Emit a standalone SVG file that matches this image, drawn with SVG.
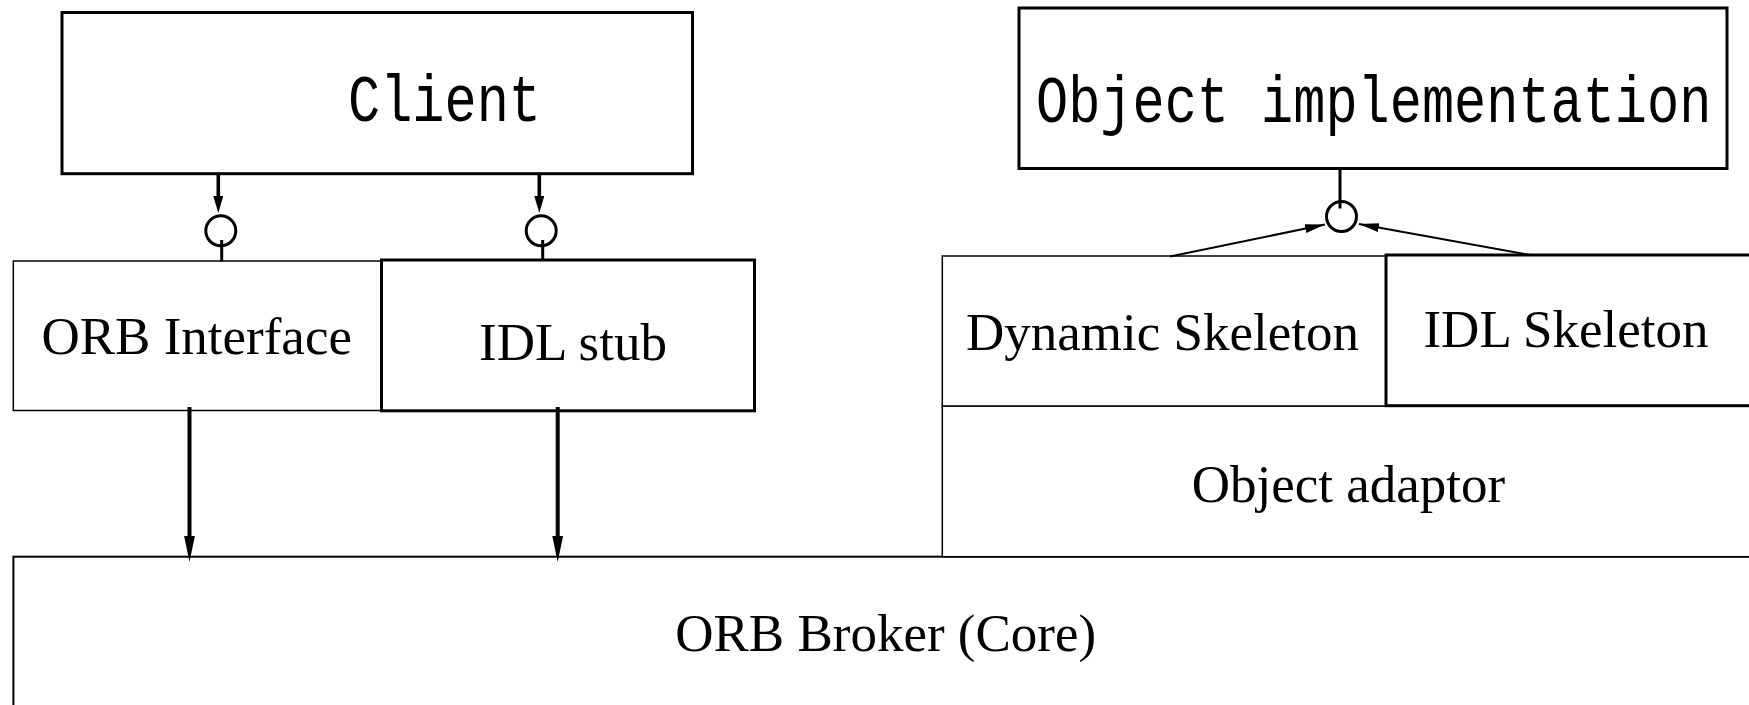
<svg xmlns="http://www.w3.org/2000/svg" width="1749" height="705" viewBox="0 0 1749 705">
<style>
  .thin { fill: #fff; stroke: #000; stroke-width: 1.5; }
  .thick { fill: #fff; stroke: #000; stroke-width: 3; }
  .base { fill: #fff; stroke: #000; stroke-width: 2; }
  .serif { font-family: "Liberation Serif", "Times New Roman", serif; font-size: 53px; fill: #000; text-anchor: middle; }
  .mono { font-family: "Liberation Mono", "Courier New", monospace; font-size: 53.6px; fill: #000; }
  .conn { fill: none; stroke: #000; }
  .ring { fill: #fff; stroke: #000; stroke-width: 3; }
</style>
<defs>
  <marker id="headLong" markerUnits="userSpaceOnUse" markerWidth="27" markerHeight="12" refX="0" refY="5.4" orient="auto">
    <path d="M0,0 L26,5.4 L0,10.8 Z" fill="#000"/>
  </marker>
  <marker id="headShort" markerUnits="userSpaceOnUse" markerWidth="18" markerHeight="11" refX="0" refY="5" orient="auto">
    <path d="M0,0 L17,5 L0,10 Z" fill="#000"/>
  </marker>
  <marker id="headSlant" markerUnits="userSpaceOnUse" markerWidth="21" markerHeight="10" refX="20" refY="4.5" orient="auto">
    <path d="M0,0 L20,4.5 L0,9 Z" fill="#000"/>
  </marker>
</defs>

<g id="orb-broker">
  <rect class="base" x="13.4" y="556.7" width="1800" height="220"/>
  <text class="serif" x="885.7" y="650.7">ORB Broker (Core)</text>
</g>
<g id="object-adaptor">
  <rect class="thin" x="942.3" y="406" width="850" height="150.7"/>
  <text class="serif" x="1348.5" y="501.7">Object adaptor</text>
</g>
<g id="orb-interface">
  <rect class="thin" x="13.3" y="261" width="368" height="149.5"/>
  <text class="serif" x="196.7" y="354.3">ORB Interface</text>
</g>
<g id="idl-stub">
  <rect class="thick" x="381.5" y="260" width="373" height="150.8"/>
  <text class="serif" x="573" y="360">IDL stub</text>
</g>
<g id="dynamic-skeleton">
  <rect class="thin" x="942.3" y="256" width="443.5" height="150"/>
  <text class="serif" x="1162.5" y="350">Dynamic Skeleton</text>
</g>
<g id="idl-skeleton">
  <rect class="thick" x="1386" y="255" width="420" height="150.7"/>
  <text class="serif" x="1566" y="346.7">IDL Skeleton</text>
</g>
<g id="client">
  <rect class="thick" x="62" y="12.5" width="630.5" height="161.2"/>
  <text class="mono" transform="translate(348,121) scale(1,1.24)" x="0" y="0">Client</text>
</g>
<g id="object-implementation">
  <rect class="thick" x="1019" y="8" width="708" height="160.5"/>
  <text class="mono" transform="translate(1036,121.5) scale(1,1.24)" x="0" y="0">Object implementation</text>
</g>

<g id="connectors">
  <line class="conn" stroke-width="3.6" x1="218.3" y1="175" x2="218.3" y2="196" marker-end="url(#headShort)"/>
  <line class="conn" stroke-width="3.6" x1="539.3" y1="175" x2="539.3" y2="196" marker-end="url(#headShort)"/>
  <circle class="ring" cx="220.8" cy="230.8" r="15"/>
  <circle class="ring" cx="541.2" cy="230.8" r="15"/>
  <line class="conn" stroke-width="3" x1="221.7" y1="240" x2="221.7" y2="261.5"/>
  <line class="conn" stroke-width="3" x1="542.7" y1="240" x2="542.7" y2="260"/>
  <line class="conn" stroke-width="4" x1="189.5" y1="407" x2="189.5" y2="536" marker-end="url(#headLong)"/>
  <line class="conn" stroke-width="4" x1="557.7" y1="407" x2="557.7" y2="536" marker-end="url(#headLong)"/>
  <line class="conn" stroke-width="3" x1="1340" y1="169" x2="1340" y2="208.5"/>
  <circle class="ring" cx="1341.5" cy="216.5" r="15" style="fill:none"/>
  <line class="conn" stroke-width="2" x1="1170" y1="256.5" x2="1325" y2="224.5" marker-end="url(#headSlant)"/>
  <line class="conn" stroke-width="2" x1="1530" y1="255" x2="1359" y2="224" marker-end="url(#headSlant)"/>
</g>
</svg>
